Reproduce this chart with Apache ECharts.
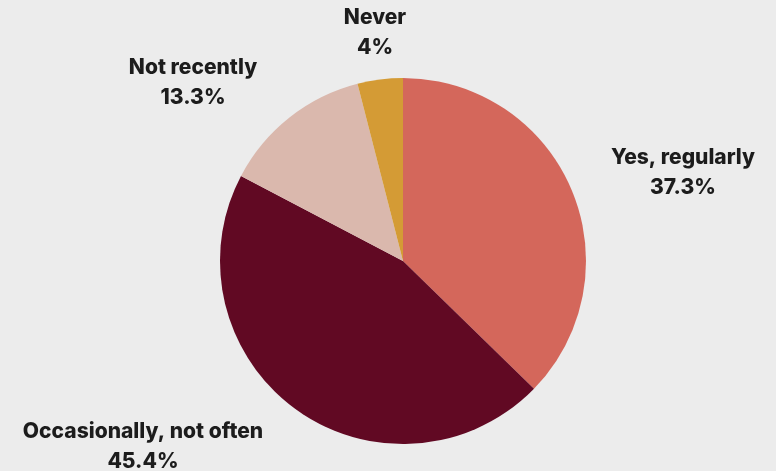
<!DOCTYPE html>
<html>
<head>
<meta charset="utf-8">
<script src="https://cdn.jsdelivr.net/npm/echarts@6/dist/echarts.min.js"></script>
<style>
  html, body { margin: 0; padding: 0; background: #ececec; }
  #chart { width: 776px; height: 471px; }
</style>
</head>
<body>
<div id="chart"></div>
<script>
// 数据
const categories = ["Yes, regularly", "Occasionally, not often", "Not recently", "Never"];
const shares = [37.3, 45.4, 13.3, 4];
const colors = ["#d4675b", "#610923", "#dab8ad", "#d49b35"];

// label centres (px), same order as categories
const labelPos = [[683, 173], [143, 447], [193, 83], [375, 33]];

const chart = echarts.init(document.getElementById("chart"));

chart.setOption({
  backgroundColor: "#ececec",
  animation: false,
  series: [
    {
      type: "pie",
      center: [403, 261],
      radius: 183,
      startAngle: 90,
      clockwise: true,
      data: categories.map((name, i) => ({
        name: name,
        value: shares[i],
        itemStyle: { color: colors[i] },
      })),
      label: {
        show: true,
        position: "outside",
        formatter: (p) => p.name + "\n" + p.value + "%",
        fontFamily: "Inter",
        fontWeight: 800,
        fontSize: 21,
        lineHeight: 30,
        color: "#1c1c1c",
        align: "center",
      },
      labelLine: { show: false },
      labelLayout: (params) => {
        const p = labelPos[params.dataIndex];
        return { x: p[0], y: p[1], align: "center", verticalAlign: "middle" };
      },
    },
  ],
});
</script>
</body>
</html>
